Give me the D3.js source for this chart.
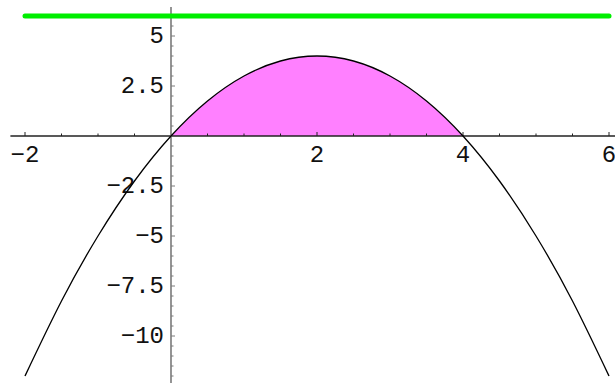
<!DOCTYPE html>
<html>
<head>
<meta charset="utf-8">
<script src="https://cdn.jsdelivr.net/npm/d3@7/dist/d3.min.js"></script>
<style>
  html, body { margin: 0; padding: 0; background: #fff; }
  svg { display: block; }
  .tick-label { font-family: "Liberation Mono", "DejaVu Sans Mono", monospace; font-size: 24px; fill: #111; }
</style>
</head>
<body>
<svg id="chart" width="615" height="383"></svg>
<script>
// values
const curveX = [-2, -1.5, -1, -0.5, 0, 0.5, 1, 1.5, 2, 2.5, 3, 3.5, 4, 4.5, 5, 5.5, 6];
const curveY = [-12, -8.25, -5, -2.25, 0, 1.75, 3, 3.75, 4, 3.75, 3, 1.75, 0, -2.25, -5, -8.25, -12];
const fillFrom = 0;
const fillTo = 4;
const greenLevel = 6;
const greenSpan = [-2, 6];

const xMajor = [-2, 2, 4, 6];
const xLabels = ["-2", "2", "4", "6"];
const yMajor = [-10, -7.5, -5, -2.5, 2.5, 5];
const yLabels = ["-10", "-7.5", "-5", "-2.5", "2.5", "5"];
const xMinor = d3.range(-2, 6.01, 0.5);
const yMinor = d3.range(-12, 6.01, 0.5);
const xAxisSpan = [-2.2, 6.2];
const yAxisSpan = [-12.35, 6.45];

const svg = d3.select("#chart");
const x = d3.scaleLinear().domain([-2, 6]).range([25, 609]);
const y = d3.scaleLinear().domain([-12, 6]).range([376, 16]);

const points = curveX.map((v, i) => ({ x: v, y: curveY[i] }));
const fillPoints = points.filter(d => d.x >= fillFrom && d.x <= fillTo);

// filled region under the arch
svg.append("path")
  .datum(fillPoints)
  .attr("fill", "#ff80ff")
  .attr("d", d3.area().x(d => x(d.x)).y0(y(0)).y1(d => y(d.y)).curve(d3.curveNatural));

// axes
svg.append("line")
  .attr("x1", x(xAxisSpan[0])).attr("x2", x(xAxisSpan[1]))
  .attr("y1", y(0)).attr("y2", y(0))
  .attr("stroke", "#222").attr("stroke-width", 1.4);

svg.append("line")
  .attr("x1", x(0)).attr("x2", x(0))
  .attr("y1", y(yAxisSpan[1])).attr("y2", y(yAxisSpan[0]))
  .attr("stroke", "#7a7a7a").attr("stroke-width", 1.6);

// x ticks point up
svg.append("g").selectAll("line")
  .data(xMinor.filter(v => v !== 0))
  .join("line")
  .attr("x1", d => x(d)).attr("x2", d => x(d))
  .attr("y1", y(0))
  .attr("y2", d => y(0) - (xMajor.includes(d) ? 4 : 2.5))
  .attr("stroke", "#222").attr("stroke-width", 1);

// y ticks point right
svg.append("g").selectAll("line")
  .data(yMinor.filter(v => v !== 0))
  .join("line")
  .attr("x1", x(0))
  .attr("x2", d => x(0) + (yMajor.includes(d) ? 4 : 2.5))
  .attr("y1", d => y(d)).attr("y2", d => y(d))
  .attr("stroke", "#7a7a7a").attr("stroke-width", 1);

svg.append("g").selectAll("text")
  .data(xMajor)
  .join("text")
  .attr("class", "tick-label")
  .attr("x", d => x(d))
  .attr("y", y(0) + 19)
  .attr("text-anchor", "middle")
  .attr("dominant-baseline", "central")
  .text((d, i) => xLabels[i].replace("-", "\u2212"));

svg.append("g").selectAll("text")
  .data(yMajor)
  .join("text")
  .attr("class", "tick-label")
  .attr("x", x(0) - 7)
  .attr("y", d => y(d))
  .attr("text-anchor", "end")
  .attr("dominant-baseline", "central")
  .text((d, i) => yLabels[i].replace("-", "\u2212"));

// the parabola
svg.append("path")
  .datum(points)
  .attr("fill", "none")
  .attr("stroke", "#000")
  .attr("stroke-width", 1.3)
  .attr("d", d3.line().x(d => x(d.x)).y(d => y(d.y)).curve(d3.curveNatural));

// green level line
svg.append("line")
  .attr("x1", x(greenSpan[0])).attr("x2", x(greenSpan[1]))
  .attr("y1", y(greenLevel)).attr("y2", y(greenLevel))
  .attr("stroke", "#00ee00").attr("stroke-width", 5)
  .attr("stroke-linecap", "round");
</script>
</body>
</html>
